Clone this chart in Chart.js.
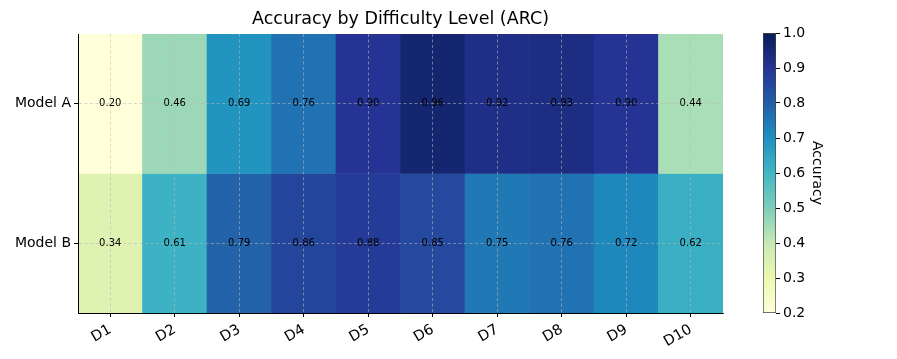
<!DOCTYPE html>
<html><head><meta charset="utf-8">
<script src="https://cdn.jsdelivr.net/npm/chart.js@4.4.1/dist/chart.umd.min.js"></script>
<style>
html,body{margin:0;padding:0;background:#fff;}
#wrap{position:relative;width:897px;height:359px;overflow:hidden;}
canvas{position:absolute;top:0;}
</style>
</head><body>
<div id="wrap">
<canvas id="main" width="897" height="359" style="left:0;width:897px;height:359px"></canvas>
<canvas id="cbar" width="197" height="359" style="left:700px;width:197px;height:359px"></canvas>
</div>
<script>
const categories = ['D1','D2','D3','D4','D5','D6','D7','D8','D9','D10'];
const rowLabels = ['Model A','Model B'];
const modelA = [0.20,0.46,0.69,0.76,0.90,0.96,0.92,0.93,0.90,0.44];
const modelB = [0.34,0.61,0.79,0.86,0.88,0.85,0.75,0.76,0.72,0.62];
const colorbarTicks = [0.2,0.3,0.4,0.5,0.6,0.7,0.8,0.9,1.0];
const vmin = 0.2, vmax = 1.0;
const titleText = 'Accuracy by Difficulty Level (ARC)';
const cbarLabel = 'Accuracy';

const FONT = "'DejaVu Sans', sans-serif";
const stops = [[255,255,217],[237,248,177],[199,233,180],[127,205,187],[65,182,196],[29,145,192],[34,94,168],[37,52,148],[8,29,88]];
function cmap(t){
  t = Math.max(0, Math.min(1, t));
  const p = t*(stops.length-1); const i = Math.min(Math.floor(p), stops.length-2); const f = p - i;
  const a = stops[i], b = stops[i+1];
  return 'rgb(' + [0,1,2].map(k => Math.round(a[k] + (b[k]-a[k])*f)).join(',') + ')';
}
const norm = v => (v - vmin)/(vmax - vmin);
const rows = [modelA, modelB];

const gridStyle = {
  z: 1, color: 'rgba(185,185,185,0.7)', lineWidth: 0.8,
  tickColor: '#000', tickWidth: 1, tickLength: 4, tickBorderDash: [], drawTicks: true
};
const borderStyle = { display: true, color: '#000', width: 1, dash: [3,2.5], z: 2 };

const annot = {
  id: 'annot',
  afterDraw(chart){
    const ctx = chart.ctx;
    ctx.save();
    ctx.font = '10px ' + FONT; ctx.fillStyle = '#000';
    ctx.textAlign = 'center'; ctx.textBaseline = 'middle';
    chart.data.datasets.forEach((ds, i) => {
      const meta = chart.getDatasetMeta(i);
      meta.data.forEach((bar, j) => {
        ctx.fillText(rows[i][j].toFixed(2), bar.x, (bar.y + bar.base)/2);
      });
    });
    ctx.restore();
  }
};

new Chart(document.getElementById('main'), {
  type: 'bar',
  data: {
    labels: categories,
    datasets: [
      { label: rowLabels[0], data: modelA.map(() => [1, 2]), backgroundColor: modelA.map(v => cmap(norm(v))), borderWidth: 0 },
      { label: rowLabels[1], data: modelB.map(() => [0, 1]), backgroundColor: modelB.map(v => cmap(norm(v))), borderWidth: 0 }
    ]
  },
  options: {
    responsive: false, animation: false,
    barPercentage: 1, categoryPercentage: 1, grouped: false,
    layout: { padding: { left: 0, right: 174, top: 0, bottom: 0 } },
    plugins: {
      legend: { display: false }, tooltip: { enabled: false },
      title: { display: true, fullSize: false, text: titleText, color: '#000', font: { family: FONT, size: 17.5, weight: 'normal' }, padding: { top: 9, bottom: 4 } }
    },
    scales: {
      x: {
        type: 'category', offset: true,
        grid: Object.assign({ offset: false }, gridStyle),
        border: borderStyle,
        ticks: { autoSkip: false, maxRotation: 30, minRotation: 30, padding: 4, color: '#000', font: { family: FONT, size: 14.5 } },
        afterFit: s => { s.height = 46; }
      },
      y: {
        type: 'linear', min: 0, max: 2,
        afterBuildTicks: s => { s.ticks = [{ value: 0.5 }, { value: 1.5 }]; },
        grid: Object.assign({}, gridStyle),
        border: borderStyle,
        ticks: { padding: 3, color: '#000', font: { family: FONT, size: 14 }, callback: v => v > 1 ? rowLabels[0] : rowLabels[1] },
        afterFit: s => { s.width = 78; }
      }
    }
  },
  plugins: [annot]
});

function gradientFill(context){
  const ca = context.chart.chartArea;
  if (!ca) return cmap(0.5);
  const g = context.chart.ctx.createLinearGradient(0, ca.bottom, 0, ca.top);
  stops.forEach((s, i) => g.addColorStop(i/(stops.length-1), 'rgb(' + s.join(',') + ')'));
  return g;
}

new Chart(document.getElementById('cbar'), {
  type: 'bar',
  data: { labels: [''], datasets: [{ data: [[vmin, vmax]], backgroundColor: gradientFill, borderColor: '#444', borderWidth: 1, borderSkipped: false }] },
  options: {
    responsive: false, animation: false,
    barPercentage: 1, categoryPercentage: 1,
    layout: { padding: { left: 63, right: 72, top: 33, bottom: 46 } },
    plugins: { legend: { display: false }, tooltip: { enabled: false }, title: { display: false } },
    scales: {
      x: { display: false, offset: true },
      y: {
        type: 'linear', position: 'right', min: vmin, max: vmax,
        afterBuildTicks: s => { s.ticks = colorbarTicks.map(v => ({ value: v })); },
        grid: { drawOnChartArea: false, drawTicks: true, tickLength: 4, tickColor: '#000', tickWidth: 1 },
        border: { display: false },
        ticks: { padding: 3, color: '#000', font: { family: FONT, size: 14 }, callback: v => Number(v).toFixed(1) },
        title: { display: true, text: cbarLabel, color: '#000', font: { family: FONT, size: 14 }, padding: 0 },
        afterFit: s => { s.width = 49; }
      }
    }
  }
});
</script>
</body></html>
